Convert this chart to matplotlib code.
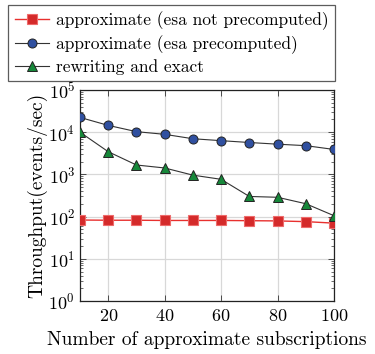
import matplotlib
matplotlib.use("Agg")
import matplotlib.pyplot as plt
from matplotlib.ticker import LogLocator, FixedLocator

plt.rcParams['font.family'] = 'serif'
plt.rcParams['font.serif'] = ['cmr10']
plt.rcParams['mathtext.fontset'] = 'cm'
plt.rcParams['axes.formatter.use_mathtext'] = True

x = [10, 20, 30, 40, 50, 60, 70, 80, 90, 100]
not_pre = [83, 82, 82, 81, 81, 81, 80, 79, 76, 70]
pre = [22400, 14500, 10300, 8900, 7000, 6300, 5700, 5200, 4800, 3900]
rewrite = [10000, 3450, 1670, 1420, 960, 765, 300, 287, 202, 105]
labels = ['approximate (esa not precomputed)', 'approximate (esa precomputed)', 'rewriting and exact']
xticks = [20, 40, 60, 80, 100]

fig = plt.figure(figsize=(3.75, 3.54), dpi=100)
ax = fig.add_axes([80/375, 1-301/354, 254/375, 211/354])

l1, = ax.plot(x, not_pre, color='#e8302e', marker='s', markersize=7, markerfacecolor='#d42a2a',
              markeredgecolor='#ee6a6a', markeredgewidth=0.8, linewidth=1.0, label=labels[0], zorder=3)
l2, = ax.plot(x, pre, color='#333333', marker='o', markersize=6.5, markerfacecolor='#3050a0',
              markeredgecolor='#222222', markeredgewidth=0.7, linewidth=0.8, label=labels[1], zorder=3)
l3, = ax.plot(x, rewrite, color='#333333', marker='^', markersize=7, markerfacecolor='#16883a',
              markeredgecolor='#222222', markeredgewidth=0.7, linewidth=0.8, label=labels[2], zorder=3)

ax.set_yscale('log')
ax.set_ylim(1, 1e5)
ax.set_xlim(10, 100)
ax.xaxis.set_major_locator(FixedLocator(xticks))
ax.yaxis.set_major_locator(LogLocator(base=10, numticks=10))
ax.yaxis.set_minor_locator(LogLocator(base=10, subs=range(2, 10), numticks=10))
ax.grid(True, which='major', color='#d8d8d8', linewidth=0.9, zorder=0)
ax.set_axisbelow(True)
ax.tick_params(which='both', direction='in', top=True, right=True, labelsize=13, colors='#333333',
               labelcolor='black')
ax.tick_params(which='major', length=4, width=0.6)
ax.tick_params(which='minor', length=2.5, width=0.5)
ax.tick_params(axis='x', pad=5)
for s in ax.spines.values():
    s.set_linewidth(0.9)
    s.set_color('#222222')

ax.set_xlabel('Number of approximate subscriptions', fontsize=14, labelpad=5)
ax.set_ylabel('Throughput(events/sec)', fontsize=14, labelpad=1)

leg = fig.legend(handles=[l1, l2, l3], loc='upper right', bbox_to_anchor=(335/375, 1-5/354),
                 fontsize=12.5, frameon=True, fancybox=False, edgecolor='#333333',
                 handlelength=2.0, handletextpad=0.4, borderpad=0.35, labelspacing=0.3,
                 borderaxespad=0)
leg.get_frame().set_linewidth(0.9)

fig.savefig('out.png', dpi=100)
